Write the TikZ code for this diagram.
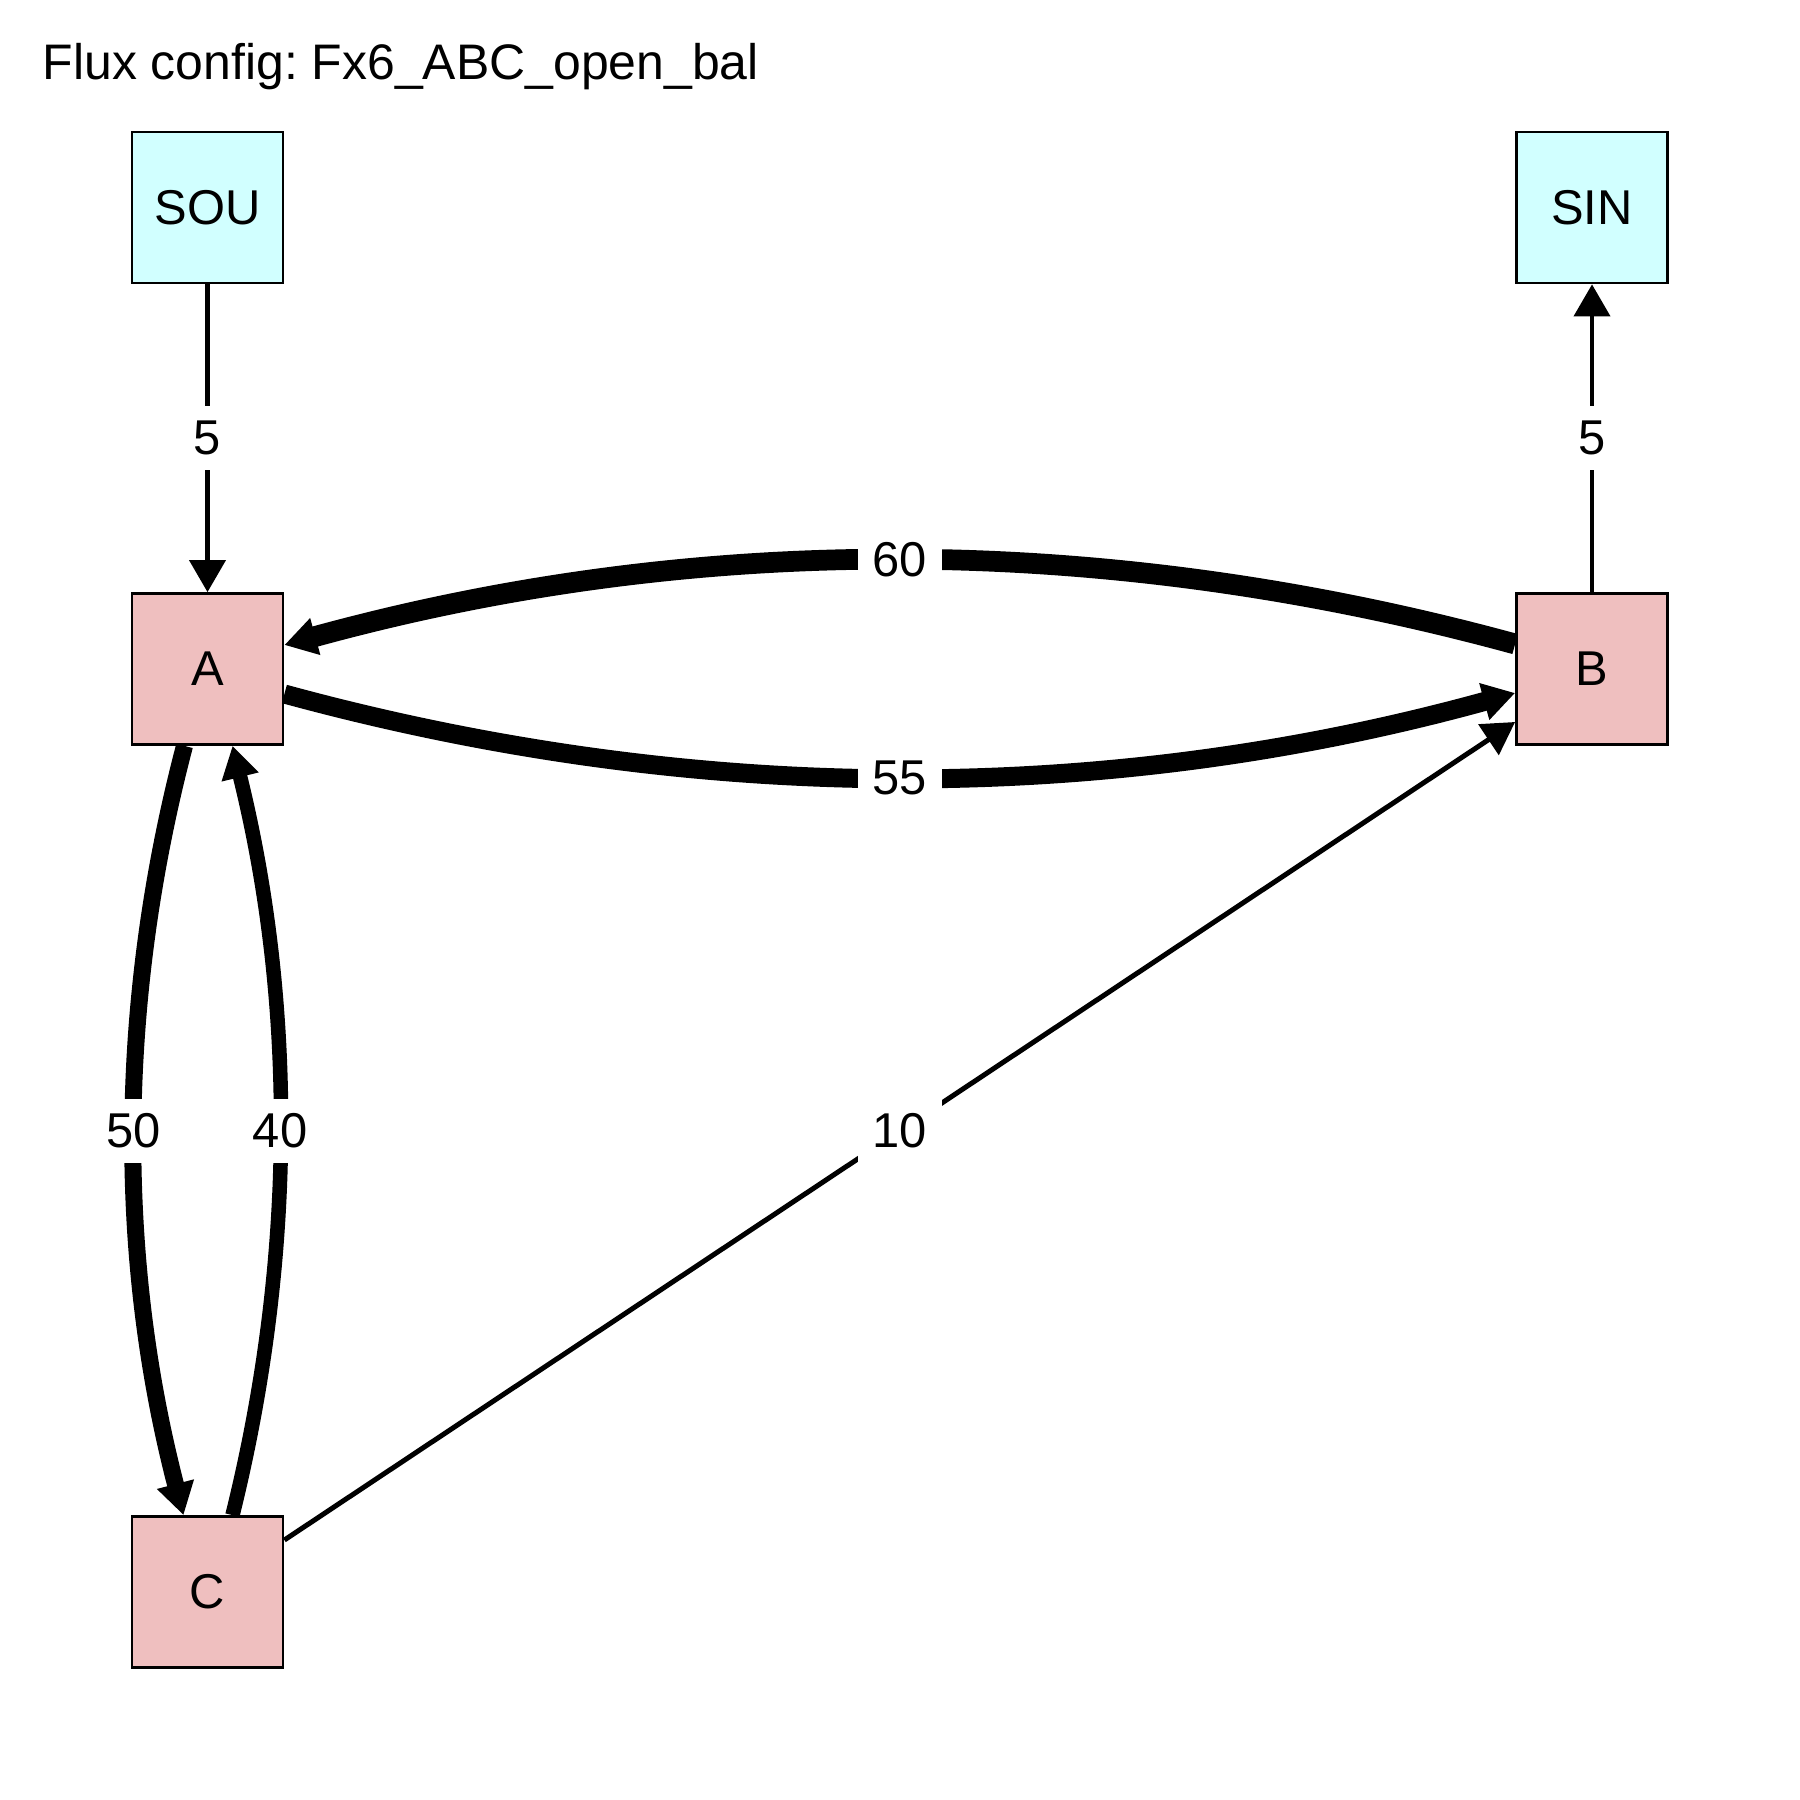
\documentclass[tikz,border=0pt]{standalone}
\usepackage{fontspec}
\setmainfont{Liberation Sans}
\usetikzlibrary{arrows.meta,calc}
\definecolor{extfill}{RGB}{209,255,255}
\definecolor{poolfill}{RGB}{239,191,191}
\frenchspacing
\begin{document}
\begin{tikzpicture}[x=0.01cm,y=-0.01cm,
  font=\fontsize{13.9}{16}\selectfont,
  box/.style={draw,line width=0.77pt,minimum size=1.51cm,inner sep=0pt},
  pool/.style={box,fill=poolfill},
  ext/.style={box,fill=extfill},
  flow/.style={draw,-{Triangle[length=0.32cm,width=0.36cm]}},
  lbl/.style={fill=white,inner sep=0pt,minimum width=0.84cm,minimum height=0.64cm},
]
\useasboundingbox (0,0) rectangle (1800,1800);
\node[anchor=base west,inner sep=0pt,font=\fontsize{14.2}{17}\selectfont] (title) at (42,80) {Flux config: Fx6\_ABC\_open\_bal};

% compartments
\node[ext] (SOU) at (207.5,207.5) {SOU};
\node[ext] (SIN) at (1592,207.5) {SIN};
\node[pool] (A) at (207.5,669) {A};
\node[pool] (B) at (1592,669) {B};
\node[pool] (C) at (207.5,1592) {C};

% source and sink fluxes
\draw[flow,line width=1.14pt] (SOU) -- node[lbl]{5} (A);
\draw[flow,line width=1.14pt] (B) -- node[lbl]{5} (SIN);

% exchange between A and B
\draw[flow,line width=5.9pt] ($(B.west)+(0,-25)$) .. controls (1105,532) and (695,532) .. node[lbl]{60} ($(A.east)+(0,-24)$);
\draw[flow,line width=5.4pt] ($(A.east)+(0,25)$) .. controls (695,806) and (1105,806) .. node[lbl]{55} ($(B.west)+(0,24)$);

% exchange between A and C
\draw[flow,line width=4.84pt] ($(A.south)+(-23,0)$) .. controls (117,1003) and (117,1259) .. node[lbl]{50} ($(C.north)+(-24,0)$);
\draw[flow,line width=4.13pt] ($(C.north)+(25,0)$) .. controls (296,1259) and (296,1003) .. node[lbl]{40} ($(A.south)+(25,0)$);

% C to B
\draw[flow,line width=1.42pt] ($(C.east)+(0,-52)$) -- node[lbl]{10} ($(B.west)+(0,53)$);
\end{tikzpicture}
\end{document}
